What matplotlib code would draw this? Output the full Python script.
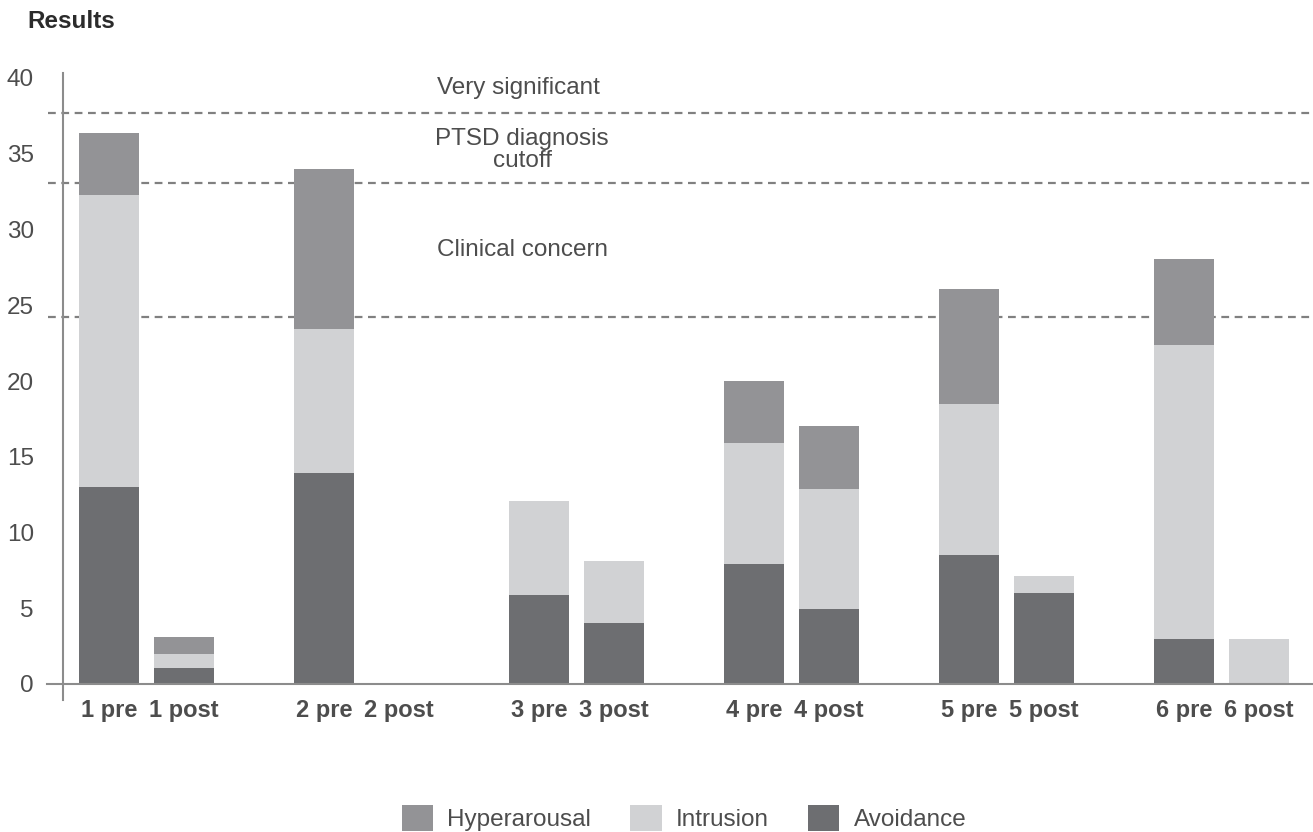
import matplotlib
matplotlib.use("Agg")
import matplotlib.pyplot as plt
import numpy as np

# data
labels = ["1 pre", "1 post", "2 pre", "2 post", "3 pre", "3 post",
          "4 pre", "4 post", "5 pre", "5 post", "6 pre", "6 post"]
avoidance = [13.0, 1.05, 13.9, 0, 5.9, 4.0, 7.9, 4.95, 8.5, 6.0, 3.0, 0]
intrusion = [19.3, 0.95, 9.5, 0, 6.2, 4.1, 8.0, 7.95, 10.0, 1.1, 19.4, 3.0]
hyperarousal = [4.1, 1.1, 10.6, 0, 0, 0, 4.1, 4.1, 7.6, 0, 5.65, 0]

cutoffs = [37.7, 33.1, 24.2]
yticks = [0, 5, 10, 15, 20, 25, 30, 35, 40]

c_hyp = "#939396"
c_int = "#d1d2d4"
c_avo = "#6d6e71"
c_axis = "#8c8c8c"
c_text = "#4d4d4d"

plt.rcParams['font.family'] = ['Liberation Sans', 'DejaVu Sans']

W, H = 1313, 832
fig = plt.figure(figsize=(W / 100, H / 100), dpi=100)
ax = fig.add_axes([63 / W, (H - 684) / H, 1250 / W, 606 / H])

# pairs of bars, groups spaced apart
x = []
for g in range(6):
    x.append(g * 2.867)
    x.append(g * 2.867 + 1)
x = np.array(x)

avo = np.array(avoidance)
intr = np.array(intrusion)
hyp = np.array(hyperarousal)

ax.bar(x, avo, width=0.8, color=c_avo, label="Avoidance", zorder=2)
ax.bar(x, intr, width=0.8, bottom=avo, color=c_int, label="Intrusion", zorder=2)
ax.bar(x, hyp, width=0.8, bottom=avo + intr, color=c_hyp, label="Hyperarousal", zorder=2)

ax.set_xlim(-0.613, -0.613 + 1250 / 75)
ax.set_ylim(0, 40)

for s in ax.spines.values():
    s.set_visible(False)

# axis lines drawn by hand so they overrun a bit like the original
yt = ax.get_yaxis_transform()
ax.plot([-0.013, 1], [0, 0], transform=yt, color=c_axis, lw=1.5, clip_on=False, zorder=3)
ax.plot([0, 0], [-1.05, 40.35], transform=yt, color=c_axis, lw=1.5, clip_on=False, zorder=3)

for c in cutoffs:
    ax.plot([-0.012, 1], [c, c], transform=yt, color="#808080", lw=1.6,
            dashes=(3.5, 2.5), clip_on=False, zorder=1)

ax.text(4.37, 39.34, "Very significant", fontsize=17.5, color=c_text, va="center", ha="left")
ax.text(5.507, 35.25, "PTSD diagnosis\ncutoff", fontsize=17.5, color=c_text, va="center",
        ha="center", linespacing=1.0)
ax.text(4.37, 28.65, "Clinical concern", fontsize=17.5, color=c_text, va="center", ha="left")

ax.set_yticks(yticks)
ax.set_yticklabels([str(t) for t in yticks], fontsize=17.5, color=c_text)
ax.tick_params(axis="y", length=0, pad=21)
ax.set_xticks(x)
ax.set_xticklabels(labels, fontsize=17, fontweight="bold", color=c_text)
ax.tick_params(axis="x", length=0, pad=11)

fig.text(27 / W, 1 - 21 / H, "Results", fontsize=17.5, fontweight="bold", color="#2b2b2b",
         va="center", ha="left")

h, l = ax.get_legend_handles_labels()
order = [2, 1, 0]
leg = fig.legend([h[i] for i in order], [l[i] for i in order], loc="center",
                 bbox_to_anchor=(684 / W, 1 - 818 / H), ncol=3, frameon=False,
                 handlelength=1.3, handleheight=1.3, handletextpad=0.58,
                 columnspacing=1.6, borderpad=0, fontsize=17.5)
for t in leg.get_texts():
    t.set_color(c_text)

fig.savefig("out.png", dpi=100)
